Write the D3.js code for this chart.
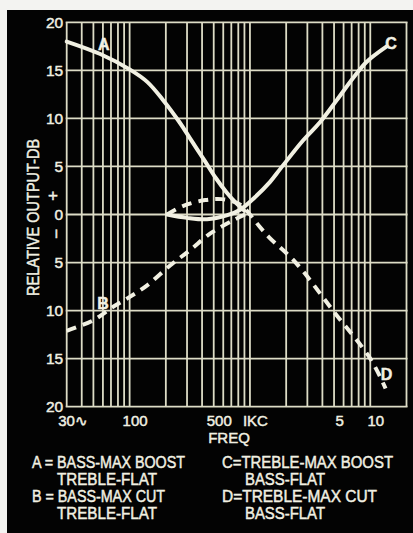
<!DOCTYPE html>
<html>
<head>
<meta charset="utf-8">
<script src="https://cdn.jsdelivr.net/npm/d3@7"></script>
<style>
  html, body { margin: 0; padding: 0; background: #f3f3f1; }
  svg { display: block; }
</style>
</head>
<body>
<svg id="chart"></svg>
<script>
// Curve data: [frequency in Hz, relative output in dB]
const curveA = [[30, 18.0], [57, 16.7], [100, 15.1], [140, 13.8], [190, 11.9], [260, 9.6], [330, 7.6], [420, 5.6], [520, 3.8], [640, 2.3], [780, 1.1], [900, 0.4]];
const curveB = [[30, -12.1], [50, -11.0], [73, -9.6], [95, -8.75], [139, -7.4], [217, -5.3], [318, -3.7], [466, -2.0], [728, -0.6], [950, 0.1]];
const curveC = [[205, 0], [300, -0.35], [440, -0.5], [640, -0.1], [830, 0.5], [1100, 1.8], [1470, 3.4], [1800, 4.8], [2760, 7.7], [3820, 9.6], [5270, 11.9], [7200, 14.2], [9350, 15.9], [13700, 17.5]];
const curveD = [[205, 0], [280, 0.9], [425, 1.5], [580, 1.6], [730, 1.35], [860, 0.9], [1000, 0], [1210, -1.3], [1450, -2.4], [2400, -5.0], [4900, -10.0], [10000, -15.0], [13400, -18.1]];

// Letter tags next to the curves: [text, frequency, dB]
const curveLabels = [['A', 61, 17.7], ['B', 60, -9.25], ['C', 14900, 17.8], ['D', 13650, -16.6]];

// Axes
const dbTicks = [-20, -15, -10, -5, 0, 5, 10, 15, 20];
const freqGrid = [30, 40, 50, 60, 70, 80, 90, 100, 200, 300, 400, 500, 600, 700, 800, 900,
  1000, 2000, 3000, 4000, 5000, 6000, 7000, 8000, 9000, 10000, 20000];
const freqTicks = [30, 100, 500, 1000, 5000, 10000];
const freqTickLabels = ['30\u223F', '100', '500', 'IKC', '5', '10'];

// Legend, two columns of two entries
const legendLeft = [['A = BASS-MAX BOOST', 'TREBLE-FLAT'], ['B = BASS-MAX CUT', 'TREBLE-FLAT']];
const legendRight = [['C=TREBLE-MAX BOOST', 'BASS-FLAT'], ['D=TREBLE-MAX CUT', 'BASS-FLAT']];

const width = 413;
const height = 533;
const marginLeft = 66.7;
const marginRight = 6.5;
const marginTop = 22.3;
const plotBottom = 406.7;

const ink = '#f1f0e2';
const gridInk = '#dddcc6';
const font = '"Liberation Sans", Arial, sans-serif';

const x = d3.scaleLog([30, 20000], [marginLeft, width - marginRight]);
const y = d3.scaleLinear([-20, 20], [plotBottom, marginTop]);

const svg = d3.select('#chart')
  .attr('width', width)
  .attr('height', height)
  .attr('viewBox', [0, 0, width, height])
  .style('font-family', font);

// Black card on the white page
svg.append('rect')
  .attr('x', 7)
  .attr('y', 10)
  .attr('width', width - 7)
  .attr('height', height - 10)
  .attr('fill', '#030303');

// Grid
const grid = svg.append('g')
  .attr('stroke', gridInk)
  .attr('stroke-width', 1.8);

grid.selectAll('line.v')
  .data(freqGrid)
  .join('line')
    .attr('class', 'v')
    .attr('x1', d => x(d))
    .attr('x2', d => x(d))
    .attr('y1', y(20))
    .attr('y2', y(-20));

grid.selectAll('line.h')
  .data(dbTicks)
  .join('line')
    .attr('class', 'h')
    .attr('x1', x(30) - 1)
    .attr('x2', x(20000) + 1)
    .attr('y1', d => y(d))
    .attr('y2', d => y(d));

// slightly heavier lettering, like the printed original
const heavy = sel => sel
  .attr('fill', ink)
  .attr('stroke', ink)
  .attr('stroke-width', 0.45);

// Y axis labels (magnitudes only, sign marks drawn separately)
svg.append('g')
  .attr('transform', `translate(${marginLeft},0)`)
  .call(d3.axisLeft(y).tickValues(dbTicks).tickFormat(d => Math.abs(d)).tickSize(0).tickPadding(3.5))
  .call(g => g.select('.domain').remove())
  .call(g => g.selectAll('text')
    .call(heavy)
    .style('font-family', font)
    .style('font-size', '15.5px'));

svg.append('text')
  .attr('x', 53)
  .attr('y', y(2))
  .attr('dy', '0.35em')
  .attr('text-anchor', 'middle')
  .call(heavy)
  .style('font-size', '17px')
  .text('+');

svg.append('text')
  .attr('transform', `translate(56,${y(-2)}) rotate(-90)`)
  .attr('dy', '0.35em')
  .attr('text-anchor', 'middle')
  .call(heavy)
  .style('font-size', '17px')
  .text('\u2212');

svg.append('text')
  .attr('transform', `translate(39,${y(-0.3)}) rotate(-90)`)
  .attr('text-anchor', 'middle')
  .call(heavy)
  .attr('textLength', 157)
  .attr('lengthAdjust', 'spacingAndGlyphs')
  .style('font-size', '17px')
  .text('RELATIVE OUTPUT-DB');

// X axis labels
svg.append('g')
  .attr('transform', `translate(0,${plotBottom})`)
  .call(d3.axisBottom(x).tickValues(freqTicks).tickFormat((d, i) => freqTickLabels[i]).tickSize(0).tickPadding(8.5))
  .call(g => g.select('.domain').remove())
  .call(g => g.selectAll('text')
    .call(heavy)
    .attr('dx', 5)
    .style('font-family', font)
    .style('font-size', '15px'))
  .call(g => g.select('.tick text')
    .attr('text-anchor', 'start')
    .attr('dx', -9));

svg.append('text')
  .attr('x', 229)
  .attr('y', 443)
  .attr('text-anchor', 'middle')
  .call(heavy)
  .style('font-size', '15px')
  .text('FREQ');

// Curves
const line = d3.line()
  .x(d => x(d[0]))
  .y(d => y(d[1]))
  .curve(d3.curveCatmullRom.alpha(0.5));

const curves = svg.append('g')
  .attr('fill', 'none')
  .attr('stroke', ink)
  .attr('stroke-linecap', 'round')
  .attr('stroke-width', 4);

curves.append('path').attr('d', line(curveA));
curves.append('path').attr('d', line(curveC));
curves.append('path').attr('d', line(curveB)).attr('stroke-dasharray', '10,7').attr('stroke-linecap', 'butt');
curves.append('path').attr('d', line(curveD)).attr('stroke-dasharray', '10,7').attr('stroke-linecap', 'butt');

svg.append('g')
  .selectAll('text')
  .data(curveLabels)
  .join('text')
    .attr('x', d => x(d[1]))
    .attr('y', d => y(d[2]))
    .attr('dy', '0.36em')
    .attr('text-anchor', 'middle')
    .call(heavy)
    .style('font-size', '16px')
    .style('font-weight', 'bold')
    .text(d => d[0]);

// Legend
const legendWidths = { 'A = BASS-MAX BOOST': 153, 'B = BASS-MAX CUT': 133, 'C=TREBLE-MAX BOOST': 171,
  'D=TREBLE-MAX CUT': 155, 'TREBLE-FLAT': 100, 'BASS-FLAT': 80 };

const drawLegend = (entries, left, indent) => {
  entries.forEach((entry, i) => {
    entry.forEach((txt, j) => {
      svg.append('text')
        .attr('x', j === 0 ? left : left + indent)
        .attr('y', 468 + i * 34 + j * 16.5)
        .call(heavy)
        .attr('textLength', legendWidths[txt])
        .attr('lengthAdjust', 'spacingAndGlyphs')
        .style('font-size', '16px')
        .text(txt);
    });
  });
};

drawLegend(legendLeft, 32, 25);
drawLegend(legendRight, 222, 23);
</script>
</body>
</html>
